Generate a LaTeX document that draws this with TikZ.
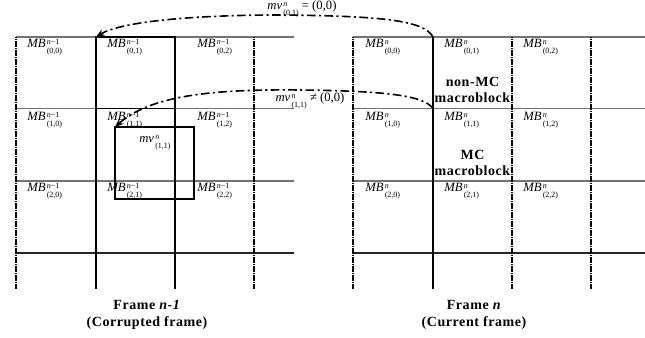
\documentclass[tikz,border=0pt]{standalone}
\usepackage{fontspec}
\setmainfont{Liberation Serif}
\newfontfamily\spbold[LetterSpace=4]{Liberation Serif}
\usetikzlibrary{arrows.meta}
\newcommand{\mbl}[2]{\textit{MB}\kern0.9pt\raisebox{-0.2ex}{\fontsize{6}{6.7}\selectfont\begin{tabular}{@{}l@{}}#1\\#2\end{tabular}}}
\newcommand{\mvl}[1]{\textit{mv}\kern0.9pt\raisebox{-0.2ex}{\fontsize{6}{6.7}\selectfont\begin{tabular}{@{}l@{}}\textit{n}\\#1\end{tabular}}}
\begin{document}
\begin{tikzpicture}[x=0.75pt,y=-0.75pt,
  vsolid/.style={line width=0.8pt,black},
  vdot/.style={line width=1.1pt,black,dash pattern=on 1pt off 0.35pt},
  hgray/.style={line width=1.1pt,black!55},
  hblack/.style={line width=0.9pt,black!85},
  mvarrow/.style={line width=1.2pt,dash pattern=on 6.5pt off 2.5pt on 1.6pt off 2.5pt,-{Stealth[length=6.5pt,width=5pt]}},
  mblabel/.style={anchor=west,inner sep=0pt,font=\fontsize{9.5}{10}\selectfont},
  mvlabel/.style={inner sep=0pt,font=\fontsize{9.5}{10}\selectfont},
  boldtxt/.style={inner sep=0.5pt,align=center,font=\fontsize{10.5}{12}\selectfont\spbold\bfseries},
  framecap/.style={inner sep=0pt,align=center,font=\fontsize{10.5}{12.2}\selectfont\spbold\bfseries}]
\useasboundingbox (0,0) rectangle (645,338);

% ---------- left frame ----------
\foreach \y in {37,108.5,181} \draw[hgray] (16,\y) -- (294,\y);
\draw[hblack] (16,253) -- (294,253);
\draw[vdot] (16,37) -- (16,289);
\draw[vsolid] (96,37) -- (96,289);
\draw[vsolid] (175,37) -- (175,289);
\draw[vdot] (254,37) -- (254,289);
\draw[line width=0.9pt,black] (96,37) rectangle (175,108.5);
\draw[line width=0.8pt,black] (115,127) rectangle (194,199);
\coordinate (L01) at (96,37);
\coordinate (Lbox) at (115,127);

\node[mblabel] (l00) at (27,47) {\mbl{\textit{n}−1}{(0,0)}};
\node[mblabel] (l01) at (107,47) {\mbl{\textit{n}−1}{(0,1)}};
\node[mblabel] (l02) at (197,47) {\mbl{\textit{n}−1}{(0,2)}};
\node[mblabel] (l10) at (27,120) {\mbl{\textit{n}−1}{(1,0)}};
\node[mblabel] (l11) at (107,120) {\mbl{\textit{n}−1}{(1,1)}};
\node[mblabel] (l12) at (197,120) {\mbl{\textit{n}−1}{(1,2)}};
\node[mblabel] (l20) at (27,191) {\mbl{\textit{n}−1}{(2,0)}};
\node[mblabel] (l21) at (107,191) {\mbl{\textit{n}−1}{(2,1)}};
\node[mblabel] (l22) at (197,191) {\mbl{\textit{n}−1}{(2,2)}};
\node[mvlabel] (mvbox) at (155,142) {\mvl{(1,1)}};

\node[framecap] (capL) at (147,315) {Frame \textit{n-1}\\(Corrupted frame)};

% ---------- right frame ----------
\foreach \y in {37,108.5,181} \draw[hgray] (353,\y) -- (645,\y);
\draw[hblack] (353,253) -- (645,253);
\draw[vdot] (353,37) -- (353,289);
\draw[vsolid] (433,37) -- (433,289);
\draw[vdot] (512,37) -- (512,289);
\draw[vdot] (591,37) -- (591,289);
\coordinate (R01) at (433,37);
\coordinate (R11) at (433,108.5);

\node[mblabel] (r00) at (365,47) {\mbl{\textit{n}}{(0,0)}};
\node[mblabel] (r01) at (444,47) {\mbl{\textit{n}}{(0,1)}};
\node[mblabel] (r02) at (523,47) {\mbl{\textit{n}}{(0,2)}};
\node[mblabel] (r10) at (365,120) {\mbl{\textit{n}}{(1,0)}};
\node[mblabel] (r11) at (444,120) {\mbl{\textit{n}}{(1,1)}};
\node[mblabel] (r12) at (523,120) {\mbl{\textit{n}}{(1,2)}};
\node[mblabel] (r20) at (365,191) {\mbl{\textit{n}}{(2,0)}};
\node[mblabel] (r21) at (444,191) {\mbl{\textit{n}}{(2,1)}};
\node[mblabel] (r22) at (523,191) {\mbl{\textit{n}}{(2,2)}};

\node[boldtxt,fill=white] (nonmc) at (472.5,90) {non-MC\\macroblock};
\node[boldtxt,fill=white] (mc) at (472.5,163) {MC\\macroblock};

\node[framecap] (capR) at (474,315) {Frame \textit{n}\\(Current frame)};

% ---------- motion vectors ----------
\draw[mvarrow] (R01) .. controls (424,20) and (380,16) .. (280,15)
  .. controls (190,15) and (120,22) .. (L01);
\node[mvlabel] (mv01) at (302,9) {\mvl{(0,1)} = (0,0)};

\draw[mvarrow] (R11) .. controls (424,96) and (390,91) .. (300,90)
  .. controls (210,89) and (150,96) .. (Lbox);
\node[mvlabel] (mv11) at (310,101) {\mvl{(1,1)} ≠ (0,0)};
\end{tikzpicture}
\end{document}
